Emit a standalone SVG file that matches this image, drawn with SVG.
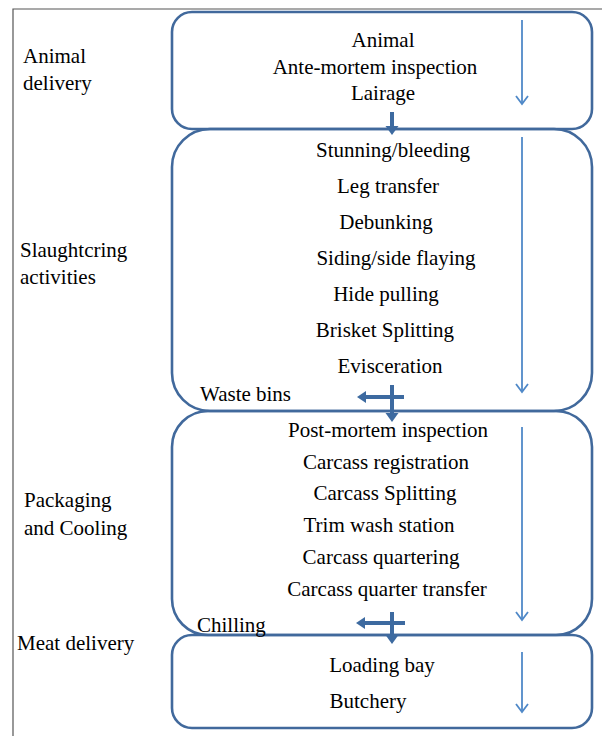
<svg xmlns="http://www.w3.org/2000/svg" width="602" height="736" viewBox="0 0 602 736">
<style>
.box{fill:none;stroke:#41699c;stroke-width:2.6}
.t{font-family:"Liberation Serif","Times New Roman",serif;font-size:21px;fill:#000}
.c{text-anchor:middle}
.flow{stroke:#5089c8;stroke-width:1.8;fill:none}
.thick{stroke:#3d6aa0;stroke-width:4;fill:none}
.head{fill:#3d6aa0}
</style>
<defs>
<marker id="v" markerWidth="12" markerHeight="14" refX="9" refY="7" orient="auto" markerUnits="userSpaceOnUse" viewBox="0 0 12 14">
<path d="M1,1 L9,7 L1,13" fill="none" stroke="#5089c8" stroke-width="1.8"/>
</marker>
</defs>
<rect width="602" height="736" fill="#fff"/>
<g id="frame" stroke="#555" stroke-width="1.2" fill="none">
<path d="M13,736 L13,9 L602,9"/>
</g>
<g id="labels">
<text class="t" x="23" y="63">Animal</text>
<text class="t" x="23" y="90">delivery</text>
<text class="t" x="20" y="257">Slaughtcring</text>
<text class="t" x="20" y="284">activities</text>
<text class="t" x="24" y="507">Packaging</text>
<text class="t" x="24" y="535">and Cooling</text>
<text class="t" x="17" y="650">Meat delivery</text>
</g>
<g id="animal-delivery">
<rect class="box" x="172" y="12" width="420" height="117" rx="20"/>
<text class="t c" x="383" y="47">Animal</text>
<text class="t c" x="375" y="74">Ante-mortem inspection</text>
<text class="t c" x="383" y="100">Lairage</text>
</g>
<g id="slaughtering">
<rect class="box" x="172" y="129" width="420" height="282" rx="38"/>
<text class="t c" x="393" y="157">Stunning/bleeding</text>
<text class="t c" x="388" y="193">Leg transfer</text>
<text class="t c" x="386" y="229">Debunking</text>
<text class="t c" x="396" y="265">Siding/side flaying</text>
<text class="t c" x="386" y="301">Hide pulling</text>
<text class="t c" x="385" y="337">Brisket Splitting</text>
<text class="t c" x="390" y="373">Evisceration</text>
</g>
<g id="packaging">
<rect class="box" x="172" y="411" width="420" height="224" rx="36"/>
<text class="t c" x="388" y="437">Post-mortem inspection</text>
<text class="t c" x="386" y="469">Carcass registration</text>
<text class="t c" x="385" y="500">Carcass Splitting</text>
<text class="t c" x="379" y="532">Trim wash station</text>
<text class="t c" x="381" y="564">Carcass quartering</text>
<text class="t c" x="387" y="596">Carcass quarter transfer</text>
</g>
<g id="meat-delivery">
<rect class="box" x="172" y="635" width="420" height="93" rx="20"/>
<text class="t c" x="382" y="672">Loading bay</text>
<text class="t c" x="368" y="708">Butchery</text>
</g>
<g id="side-labels">
<text class="t" x="200" y="401">Waste bins</text>
<text class="t" x="197" y="632">Chilling</text>
</g>
<g id="connectors">
<line class="flow" x1="522" y1="20" x2="522" y2="104" marker-end="url(#v)"/>
<line class="flow" x1="522" y1="137" x2="522" y2="392" marker-end="url(#v)"/>
<line class="flow" x1="522" y1="427" x2="522" y2="620" marker-end="url(#v)"/>
<line class="flow" x1="522" y1="652" x2="522" y2="712" marker-end="url(#v)"/>
<line class="thick" x1="392" y1="112" x2="392" y2="127"/>
<polygon class="head" points="385.5,126 398.5,126 392,135"/>
<line class="thick" x1="392" y1="385" x2="392" y2="414"/>
<polygon class="head" points="385.5,413 398.5,413 392,422"/>
<line class="thick" x1="404" y1="397" x2="365" y2="397"/>
<polygon class="head" points="366,391 366,403 357,397"/>
<line class="thick" x1="392" y1="612" x2="392" y2="636"/>
<polygon class="head" points="385.5,635 398.5,635 392,644"/>
<line class="thick" x1="405" y1="623" x2="364" y2="623"/>
<polygon class="head" points="365,617 365,629 356,623"/>
</g>
</svg>
